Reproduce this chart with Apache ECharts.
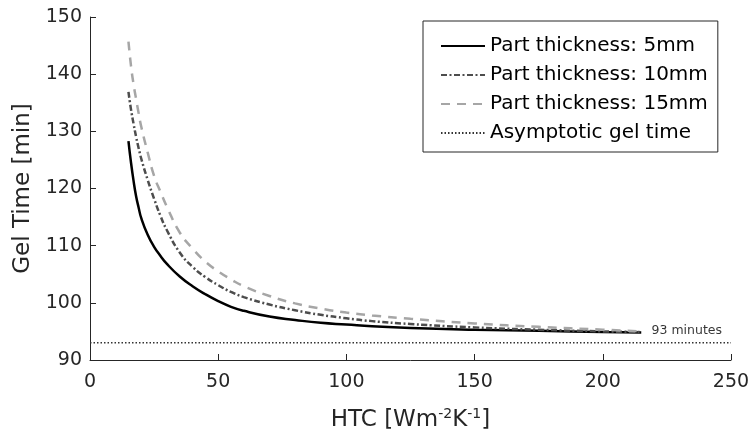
<!DOCTYPE html>
<html>
<head>
<meta charset="utf-8">
<script src="https://cdn.jsdelivr.net/npm/echarts@6/dist/echarts.min.js"></script>
<style>
  html, body { margin: 0; padding: 0; background: #fff; }
  #chart { width: 753px; height: 439px; }
</style>
</head>
<body>
<div id="chart"></div>
<script>
// HTC values (x) shared by all three curves
var htc = [15, 16, 17, 18, 19, 20, 22.5, 25, 27.5, 30, 35, 40, 45, 50, 55, 60, 70, 80, 90, 100, 110, 125, 150, 175, 200, 215];

// gel time [min]
var gel5mm  = [128.3, 124.5, 121.3, 118.6, 116.6, 114.8, 111.9, 109.8, 108.2, 106.8, 104.6, 102.9, 101.5, 100.3, 99.3, 98.6, 97.6, 97.0, 96.5, 96.2, 95.9, 95.6, 95.3, 95.1, 94.9, 94.8];
var gel10mm = [136.9, 133.8, 131.3, 129.0, 127.0, 125.2, 121.5, 118.2, 115.2, 112.7, 108.8, 106.3, 104.5, 103.1, 101.9, 101.0, 99.7, 98.7, 97.9, 97.3, 96.8, 96.3, 95.7, 95.3, 95.0, 94.9];
var gel15mm = [145.7, 141.4, 138.2, 135.6, 133.1, 130.8, 126.3, 122.2, 119.4, 116.8, 112.3, 109.5, 107.2, 105.5, 104.1, 102.9, 101.2, 99.9, 99.0, 98.3, 97.8, 97.2, 96.4, 95.8, 95.3, 95.0];

// asymptote
var asymptoteX = [0, 250];
var asymptoteGel = 93;
var asymptoteLabel = '93 minutes';
var labelAt = [219, 95.1];

var names = ['Part thickness: 5mm', 'Part thickness: 10mm', 'Part thickness: 15mm', 'Asymptotic gel time'];

var xTicks = { min: 0, max: 250, interval: 50 };
var yTicks = { min: 90, max: 150, interval: 10 };

function pairs(xs, ys) {
    var out = [];
    for (var i = 0; i < xs.length; i++) {
        out.push([xs[i], ys[i]]);
    }
    return out;
}

var font = '"DejaVu Sans", Verdana, sans-serif';
var axisColor = '#262626';

var chart = echarts.init(document.getElementById('chart'));

var option = {
    animation: false,
    textStyle: { fontFamily: font },
    grid: { left: 90, right: 22, top: 17, bottom: 79 },
    legend: {
        data: names,
        orient: 'vertical',
        left: 423,
        top: 21,
        padding: [14, 10, 8, 17],
        itemGap: 7,
        itemWidth: 44,
        itemHeight: 14,
        borderColor: axisColor,
        borderWidth: 1,
        backgroundColor: '#fff',
        itemStyle: { opacity: 0 },
        textStyle: { fontSize: 20, color: '#000', lineHeight: 22, fontFamily: font }
    },
    xAxis: {
        type: 'value',
        min: xTicks.min,
        max: xTicks.max,
        interval: xTicks.interval,
        splitLine: { show: false },
        axisLine: { lineStyle: { color: axisColor, width: 1 } },
        axisTick: { inside: true, length: 6, lineStyle: { color: axisColor } },
        axisLabel: { fontSize: 19, color: axisColor, margin: 13, fontFamily: font },
        name: 'HTC [Wm{sup|-2}K{sup|-1}]',
        nameLocation: 'middle',
        nameGap: 47,
        nameTextStyle: {
            fontSize: 23, color: axisColor, fontFamily: font,
            rich: { sup: { fontSize: 14, verticalAlign: 'top', padding: [0, 0, 12, 0], color: axisColor, fontFamily: font } }
        }
    },
    yAxis: {
        type: 'value',
        min: yTicks.min,
        max: yTicks.max,
        interval: yTicks.interval,
        splitLine: { show: false },
        axisLine: { show: true, lineStyle: { color: axisColor, width: 1 } },
        axisTick: { show: true, inside: true, length: 6, lineStyle: { color: axisColor } },
        axisLabel: { fontSize: 19, color: axisColor, margin: 8, fontFamily: font },
        name: 'Gel Time [min]',
        nameLocation: 'middle',
        nameGap: 50,
        nameTextStyle: { fontSize: 23, color: axisColor, fontFamily: font }
    },
    series: [
        {
            name: names[0],
            type: 'line',
            data: pairs(htc, gel5mm),
            smooth: true,
            symbol: 'none',
            lineStyle: { color: '#000', width: 2.5, type: 'solid' },
            itemStyle: { color: '#000' }
        },
        {
            name: names[1],
            type: 'line',
            data: pairs(htc, gel10mm),
            smooth: true,
            symbol: 'none',
            lineStyle: { color: '#4d4d4d', width: 2.5, type: [6, 2.5, 2, 2.5] },
            itemStyle: { color: '#4d4d4d' }
        },
        {
            name: names[2],
            type: 'line',
            data: pairs(htc, gel15mm),
            smooth: true,
            symbol: 'none',
            lineStyle: { color: '#a6a6a6', width: 2.5, type: [9, 7] },
            itemStyle: { color: '#a6a6a6' }
        },
        {
            name: names[3],
            type: 'line',
            data: pairs(asymptoteX, [asymptoteGel, asymptoteGel]),
            symbol: 'none',
            lineStyle: { color: '#333', width: 1.5, type: [1.5, 2] },
            itemStyle: { color: '#333' }
        },
        {
            name: 'label',
            type: 'scatter',
            data: [labelAt],
            symbolSize: 0,
            silent: true,
            label: {
                show: true,
                position: 'right',
                distance: 0,
                formatter: asymptoteLabel,
                fontSize: 12.5,
                color: '#000',
                fontFamily: font
            }
        }
    ]
};

chart.setOption(option);
</script>
</body>
</html>
